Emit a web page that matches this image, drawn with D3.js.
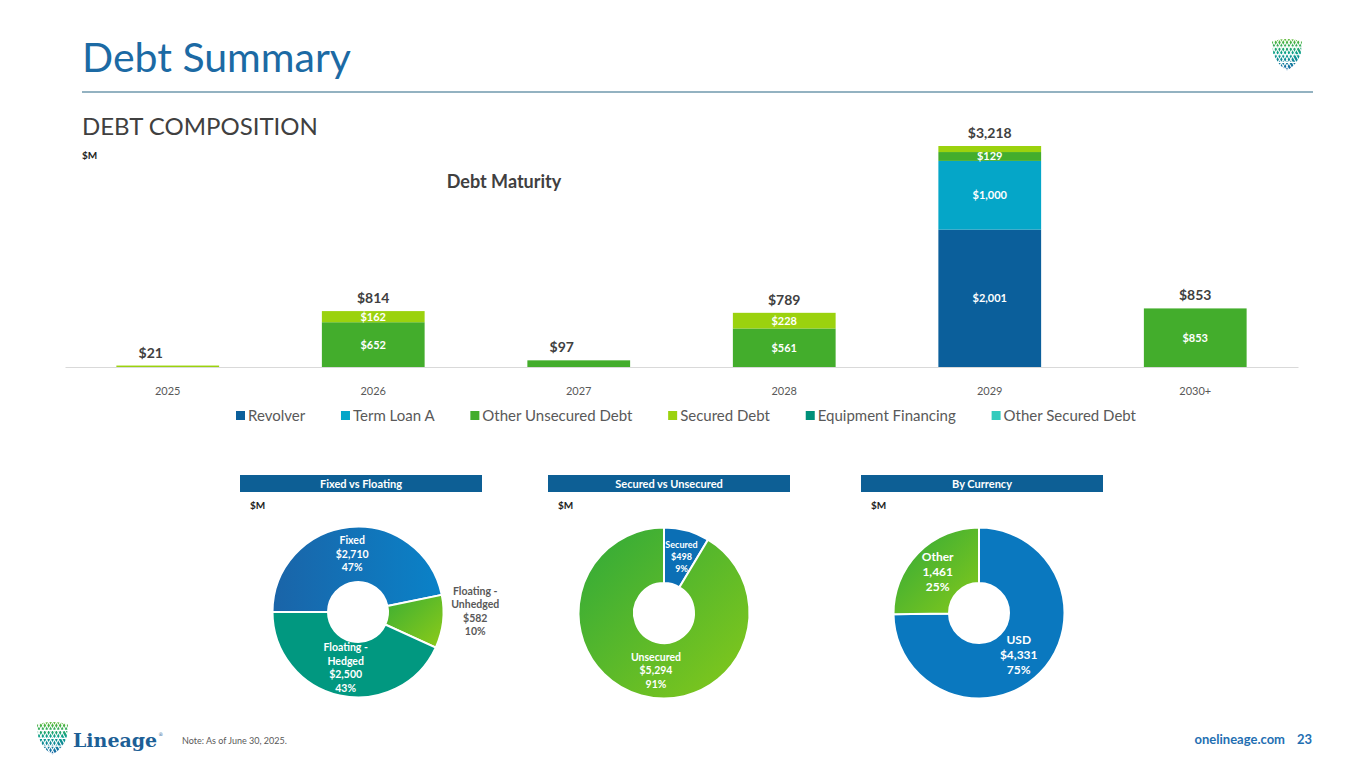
<!DOCTYPE html>
<html lang="en">
<head>
  <meta charset="utf-8">
  <title>Debt Summary</title>
  <script src="https://d3js.org/d3.v7.min.js" charset="utf-8"></script>
  <style type="text/css">
    body { margin: 0; background: #fff; }
    svg { font-family: Lato, "Open Sans", sans-serif; }
  </style>
</head>
<body>
  <svg id="chart" width="1365" height="768" xmlns="http://www.w3.org/2000/svg">
    <defs>
      <linearGradient id="gBlue" x1="0" y1="0" x2="1" y2="0">
        <stop offset="0" stop-color="#1a64a8" />
        <stop offset="1" stop-color="#0a82c8" />
      </linearGradient>
      <linearGradient id="gGreen" x1="0" y1="0" x2="1" y2="1">
        <stop offset="0" stop-color="#3aae34" />
        <stop offset="1" stop-color="#8ecb18" />
      </linearGradient>
      <linearGradient id="gGreen2" x1="0" y1="0" x2="1" y2="1">
        <stop offset="0" stop-color="#2fa93a" />
        <stop offset="1" stop-color="#86c91a" />
      </linearGradient>
      <linearGradient id="gLogo" x1="0" y1="0" x2="0" y2="1">
        <stop offset="0" stop-color="#5cb82e" />
        <stop offset="0.45" stop-color="#0aa08c" />
        <stop offset="1" stop-color="#1764a8" />
      </linearGradient>
    </defs>
  </svg>
  <script type="text/javascript">
    // ---- data ----
    var years = ['2025', '2026', '2027', '2028', '2029', '2030+'];
    var seriesNames = ['Revolver', 'Term Loan A', 'Other Unsecured Debt', 'Secured Debt', 'Equipment Financing', 'Other Secured Debt'];
    var seriesColors = ['#0b5f9b', '#05a6c8', '#43ad2c', '#9bd20e', '#00907a', '#33cbbd'];
    var revolver = [0, 0, 0, 0, 2001, 0];
    var termLoanA = [0, 0, 0, 0, 1000, 0];
    var otherUnsecured = [0, 652, 97, 561, 129, 853];
    var securedDebt = [21, 162, 0, 228, 88, 0];
    var equipmentFinancing = [0, 0, 0, 0, 0, 0];
    var otherSecured = [0, 0, 0, 0, 0, 0];
    var totals = [21, 814, 97, 789, 3218, 853];

    var fixedLabels = ['Fixed', 'Floating - Unhedged', 'Floating - Hedged'];
    var fixedValues = [2710, 582, 2500];
    var fixedPct = ['47%', '10%', '43%'];
    var securedLabels = ['Secured', 'Unsecured'];
    var securedValues = [498, 5294];
    var securedPct = ['9%', '91%'];
    var currencyLabels = ['USD', 'Other'];
    var currencyValues = [4331, 1461];
    var currencyPct = ['75%', '25%'];

    var svg = d3.select('#chart');
    var fmt = d3.format(',');

    // ---- header ----
    svg.append('text').attr('x', 82).attr('y', 72)
      .attr('font-size', '41px').style('fill', '#1c6aa4').text('Debt Summary');
    svg.append('line').attr('x1', 82).attr('x2', 1313).attr('y1', 92).attr('y2', 92)
      .style('stroke', '#6f98ad').style('stroke-width', 1.5);
    svg.append('text').attr('x', 82).attr('y', 135)
      .attr('font-size', '24px').style('fill', '#404040').text('DEBT COMPOSITION');
    svg.append('text').attr('x', 82).attr('y', 159)
      .attr('font-size', '10px').attr('font-weight', 'bold').style('fill', '#222').text('$M');
    svg.append('text').attr('x', 504).attr('y', 188).attr('text-anchor', 'middle')
      .attr('font-size', '18px').attr('font-weight', 'bold').style('fill', '#404040').text('Debt Maturity');

    // ---- shield logo ----
    function drawShield(x, y, w) {
      var h = w * 1.05;
      var g = svg.append('g').attr('transform', 'translate(' + x + ' ' + y + ')');
      g.append('path')
        .attr('d', 'M0 ' + (w * 0.08) + ' Q' + (w / 2) + ' ' + (-w * 0.08) + ' ' + w + ' ' + (w * 0.08) +
          ' L' + (w * 0.96) + ' ' + (h * 0.45) + ' Q' + (w * 0.85) + ' ' + (h * 0.8) + ' ' + (w / 2) + ' ' + h +
          ' Q' + (w * 0.15) + ' ' + (h * 0.8) + ' ' + (w * 0.04) + ' ' + (h * 0.45) + ' Z')
        .style('fill', 'url(#gLogo)');
      var tw = w / 4;
      // horizontal white bands between rows of teeth
      for (var r = 0; r < 4; r++) {
        var y0 = r * h * 0.24 + h * 0.06;
        g.append('line').attr('x1', -2).attr('x2', w + 2)
          .attr('y1', y0 + h * 0.2).attr('y2', y0 + h * 0.2)
          .style('stroke', '#fff').style('stroke-width', w * 0.04);
      }
      // diagonal white strokes form the triangle pattern
      for (var k = -4; k <= 8; k++) {
        var sx = k * tw / 2;
        g.append('line').attr('x1', sx).attr('y1', 0).attr('x2', sx + h * 0.55).attr('y2', h)
          .style('stroke', '#fff').style('stroke-width', w * 0.035);
        g.append('line').attr('x1', sx).attr('y1', 0).attr('x2', sx - h * 0.55).attr('y2', h)
          .style('stroke', '#fff').style('stroke-width', w * 0.035);
      }
      return g;
    }
    drawShield(1272, 39, 30);
    drawShield(37, 722, 31);
    var brand = svg.append('text').attr('x', 73).attr('y', 747)
      .attr('font-family', '"DejaVu Serif", serif').attr('font-weight', 'bold')
      .attr('font-size', '19px').style('fill', '#1d5f96');
    brand.append('tspan').text('Lineage');
    brand.append('tspan').attr('dx', 1).attr('dy', -11).attr('font-size', '5px').attr('font-weight', 'normal').text('®');

    // ---- footer ----
    svg.append('text').attr('x', 182).attr('y', 744)
      .attr('font-size', '9px').style('fill', '#595959').text('Note: As of June 30, 2025.');
    svg.append('text').attr('x', 1285).attr('y', 744).attr('text-anchor', 'end')
      .attr('font-size', '13px').attr('font-weight', 'bold').style('fill', '#1f6fb2').text('onelineage.com');
    svg.append('text').attr('x', 1312).attr('y', 744).attr('text-anchor', 'end')
      .attr('font-size', '13px').attr('font-weight', 'bold').style('fill', '#1f6fb2').text('23');

    // ---- bar chart ----
    var rows = years.map(function(y, i) {
      return {
        year: y,
        'Revolver': revolver[i],
        'Term Loan A': termLoanA[i],
        'Other Unsecured Debt': otherUnsecured[i],
        'Secured Debt': securedDebt[i],
        'Equipment Financing': equipmentFinancing[i],
        'Other Secured Debt': otherSecured[i],
        total: totals[i]
      };
    });

    var x = d3.scaleBand().domain(years).range([65, 1298]).paddingInner(0.5).paddingOuter(0.25);
    var y = d3.scaleLinear().domain([0, 3218]).range([367, 146]);
    var color = d3.scaleOrdinal().domain(seriesNames).range(seriesColors);

    var stacked = d3.stack().keys(seriesNames)(rows);

    var bars = svg.append('g');
    stacked.forEach(function(layer) {
      bars.append('g').style('fill', color(layer.key))
        .selectAll('rect').data(layer).enter().append('rect')
        .attr('x', function(d) { return x(d.data.year); })
        .attr('width', x.bandwidth())
        .attr('y', function(d) { return y(d[1]); })
        .attr('height', function(d) { return Math.max(0, y(d[0]) - y(d[1])); });

      bars.append('g').selectAll('text')
        .data(layer.filter(function(d) { return d[1] - d[0] >= 100; }))
        .enter().append('text')
        .attr('x', function(d) { return x(d.data.year) + x.bandwidth() / 2; })
        .attr('y', function(d) { return (y(d[0]) + y(d[1])) / 2 + 4; })
        .attr('text-anchor', 'middle')
        .attr('font-size', '11px').attr('font-weight', 'bold').style('fill', '#fff')
        .text(function(d) { return '$' + fmt(d[1] - d[0]); });
    });

    svg.append('g').selectAll('text').data(rows).enter().append('text')
      .attr('x', function(d) { return x(d.year) + x.bandwidth() / 2 - (d.total < 100 ? 17 : 0); })
      .attr('y', function(d) { return y(d.total) - 8; })
      .attr('text-anchor', 'middle')
      .attr('font-size', '14px').attr('font-weight', 'bold').style('fill', '#404040')
      .text(function(d) { return '$' + fmt(d.total); });

    var xAxis = svg.append('g').attr('transform', 'translate(0 367)')
      .call(d3.axisBottom(x).tickSize(0).tickPadding(20));
    xAxis.select('.domain').style('stroke', '#d9d9d9');
    xAxis.selectAll('text').attr('font-family', 'Lato, sans-serif').attr('font-size', '11px').style('fill', '#595959');

    // legend, spread across the same width as the reference
    var legend = svg.append('g').attr('transform', 'translate(0 421)');
    var items = [];
    var textSum = 0;
    seriesNames.forEach(function(name) {
      var item = legend.append('g');
      item.append('rect').attr('x', 0).attr('y', -10).attr('width', 9).attr('height', 9).style('fill', color(name));
      var t = item.append('text').attr('x', 12).attr('y', 0)
        .attr('font-size', '15px').style('fill', '#595959').text(name);
      var w = 12 + t.node().getComputedTextLength();
      textSum += w;
      items.push({ g: item, w: w });
    });
    var gap = (900 - textSum) / (items.length - 1);
    var lx = 236;
    items.forEach(function(it) {
      it.g.attr('transform', 'translate(' + lx + ' 0)');
      lx += it.w + gap;
    });

    // ---- donuts ----
    function donut(cx, cy, title, bannerX, labels, values, pcts, fills, startAngle, labelColors, labelPos, fontSizes, dollar) {
      svg.append('rect').attr('x', bannerX).attr('y', 475).attr('width', 242).attr('height', 17)
        .style('fill', '#0d5f95');
      svg.append('text').attr('x', bannerX + 121).attr('y', 488).attr('text-anchor', 'middle')
        .attr('font-size', '11px').attr('font-weight', 'bold').style('fill', '#fff').text(title);
      svg.append('text').attr('x', bannerX + 10).attr('y', 509)
        .attr('font-size', '10px').attr('font-weight', 'bold').style('fill', '#222').text('$M');

      var pie = d3.pie().sort(null).startAngle(startAngle).endAngle(startAngle + 2 * Math.PI);
      var arcs = pie(values);
      var arc = d3.arc().innerRadius(30).outerRadius(85.5);
      var g = svg.append('g').attr('transform', 'translate(' + cx + ' ' + cy + ')');
      g.selectAll('path').data(arcs).enter().append('path')
        .attr('d', arc)
        .style('fill', function(d, i) { return fills[i]; })
        .style('stroke', '#fff').style('stroke-width', 2);

      arcs.forEach(function(d, i) {
        var p = labelPos[i];
        var fs = fontSizes[i];
        var la = d3.arc().innerRadius(p[0]).outerRadius(p[0]);
        var c = la.centroid(d);
        c[0] += p[1];
        c[1] += p[2];
        var lines = labels[i].indexOf(' - ') > 0 ? [labels[i].split(' - ')[0] + ' -', labels[i].split(' - ')[1]] : [labels[i]];
        lines.push((dollar[i] ? '$' : '') + fmt(values[i]));
        lines.push(pcts[i]);
        var lh = fs + 3;
        var t = g.append('text').attr('text-anchor', 'middle')
          .attr('font-size', fs + 'px').attr('font-weight', 'bold').style('fill', labelColors[i]);
        lines.forEach(function(l, k) {
          t.append('tspan').attr('x', c[0])
            .attr('y', c[1] + (k - (lines.length - 1) / 2) * lh + fs * 0.35)
            .text(l);
        });
      });
    }

    donut(358, 612, 'Fixed vs Floating', 240, fixedLabels, fixedValues, fixedPct,
      ['url(#gBlue)', 'url(#gGreen)', '#019880'], -Math.PI / 2,
      ['#fff', '#595959', '#fff'], [[58, 0, 0], [118, 0, -14], [58, 0, -1]], [10.5, 10.5, 10.5], [true, true, true]);

    donut(664, 613, 'Secured vs Unsecured', 548, securedLabels, securedValues, securedPct,
      ['#0b6fb5', 'url(#gGreen2)'], 0,
      ['#fff', '#fff'], [[58, 2, 0], [60, 8, 0]], [9, 10.5], [true, true]);

    donut(979, 613, 'By Currency', 861, currencyLabels, currencyValues, currencyPct,
      ['#0a78bf', 'url(#gGreen2)'], 0,
      ['#fff', '#fff'], [[60, -3, 0], [58, 0, 0]], [12, 12], [true, false]);
  </script>
</body>
</html>
